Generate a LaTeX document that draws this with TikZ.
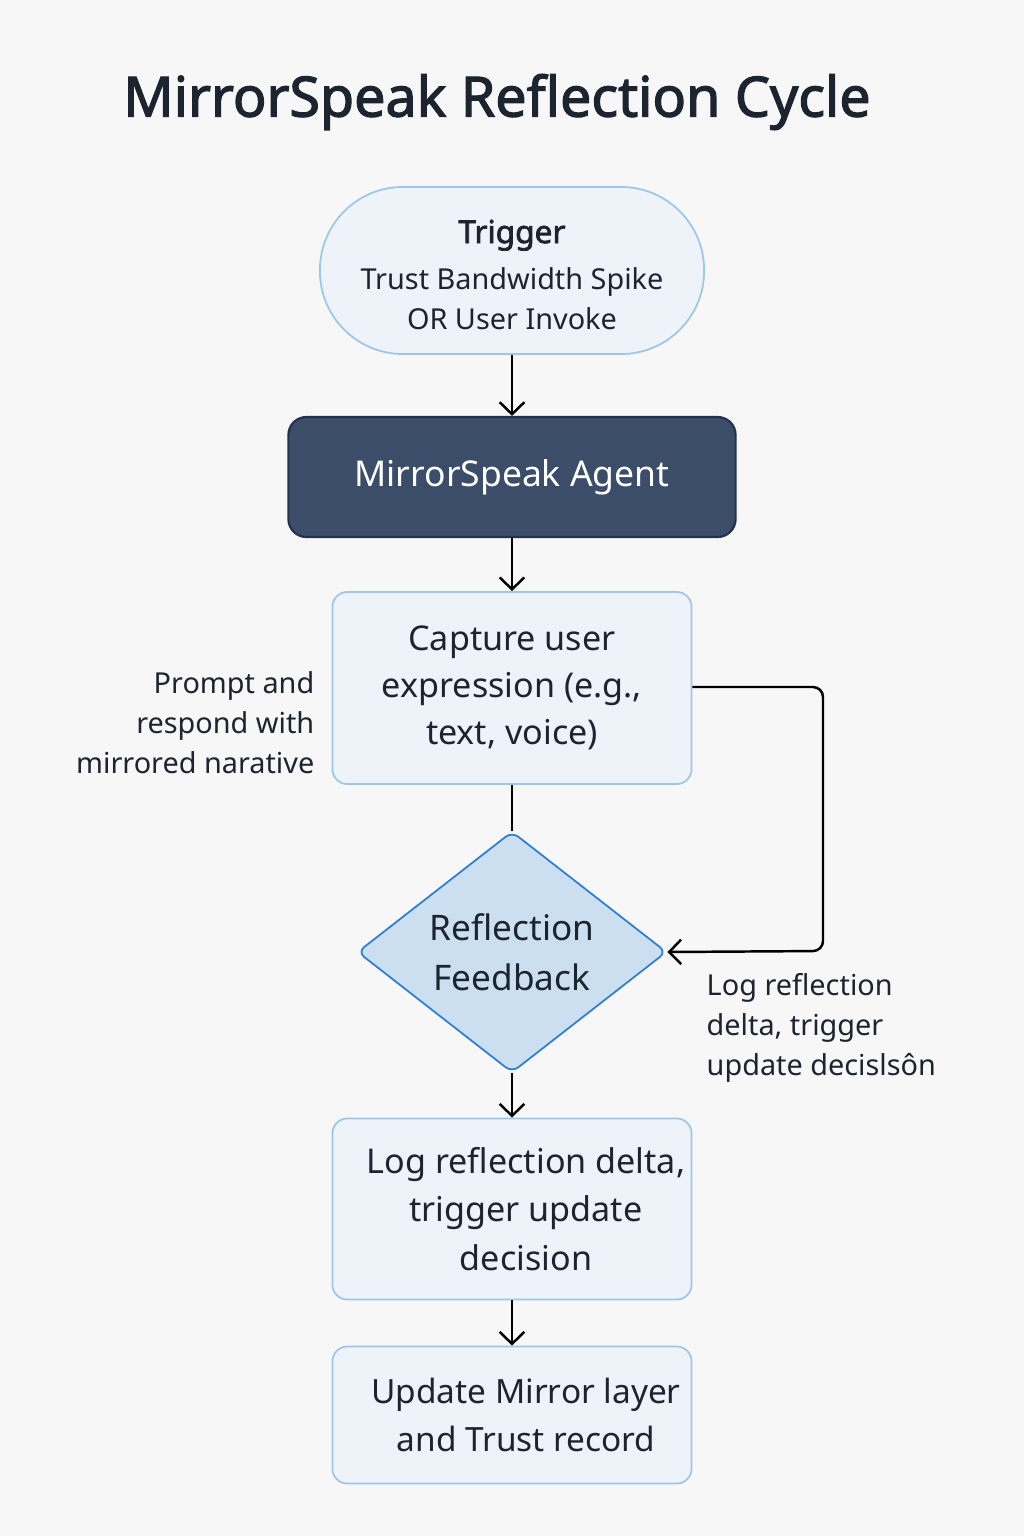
\documentclass[tikz,border=0pt]{standalone}
\usepackage{fontspec}
\setmainfont{Noto Sans}[AutoFakeBold=2.2]
\usetikzlibrary{shapes.geometric,arrows.meta}
\definecolor{pagebg}{HTML}{F7F7F7}
\definecolor{inkdark}{HTML}{1C2430}
\definecolor{boxfill}{HTML}{EEF3F9}
\definecolor{boxline}{HTML}{9EC6EA}
\definecolor{agentfill}{HTML}{3B4D68}
\definecolor{agentline}{HTML}{22324A}
\definecolor{diafill}{HTML}{CCDFF0}
\definecolor{dialine}{HTML}{2F7ED3}
\tikzset{
  stepbox/.style={draw=boxline, fill=boxfill, line width=0.5pt, rounded corners=0.15cm,
    minimum width=3.59cm, inner sep=0pt, align=center, text=inkdark,
    font=\fontsize{9.7}{13.3}\selectfont},
  sidenote/.style={inner sep=0pt, text=inkdark, font=\fontsize{8.2}{11.4}\selectfont},
  flow/.style={draw=black, line width=0.7pt, -{Straight Barb[length=3.4pt,width=7pt]}}
}
\begin{document}
\begin{tikzpicture}[x=0.01cm,y=-0.01cm]
\fill [pagebg] (0,0) rectangle (1024,1536);
\useasboundingbox (0,0) rectangle (1024,1536);
\node (title) [inner sep=0pt, text=inkdark, font=\fontsize{15.8}{18}\selectfont\bfseries] at (497,102) {MirrorSpeak Reflection Cycle};
\node (trigger) [draw=boxline, fill=boxfill, line width=0.5pt, rounded corners=0.83cm, minimum width=3.84cm, minimum height=1.67cm, inner sep=0pt,
  label={[inner sep=0pt, align=center, text=inkdark, font=\fontsize{8.2}{11.4}\selectfont, yshift=-0.045cm]center:{\fontsize{9}{11}\selectfont\bfseries Trigger}\\[1.9pt]Trust Bandwidth Spike\\OR User Invoke}] at (512,270.5) {};
\node (agent) [draw=agentline, fill=agentfill, line width=0.6pt, rounded corners=0.18cm, minimum width=4.47cm, minimum height=1.2cm, inner sep=0pt, text=white, font=\fontsize{10.1}{13}\selectfont] at (512,477) {MirrorSpeak Agent};
\node (capture) [stepbox, minimum height=1.92cm] at (512,688) {Capture user\\expression (e.g.,\\text, voice)};
\node (feedback) [draw=dialine, fill=diafill, line width=0.5pt, shape=diamond, aspect=1.28, minimum width=3.09cm, minimum height=2.41cm, inner sep=0pt, rounded corners=0.08cm, align=center, text=inkdark, font=\fontsize{10}{14.2}\selectfont] at (512,952) {Reflection\\Feedback};
\node (logbox) [stepbox, minimum height=1.81cm, font=\fontsize{9.7}{13.7}\selectfont] at (512,1209) {\hspace*{0.28cm}Log reflection delta,\\\hspace*{0.28cm}trigger update\\\hspace*{0.28cm}decision};
\node (update) [stepbox, minimum height=1.37cm, font=\fontsize{9.5}{13.7}\selectfont] at (512,1415) {\hspace*{0.28cm}Update Mirror layer\\\hspace*{0.28cm}and Trust record};
\node (prompt) [sidenote, align=right, anchor=east] at (315,723) {Prompt and\\respond with\\mirrored narative};
\node (lognote) [sidenote, align=left, anchor=west] at (706,1028) {Log reflection\\delta, trigger\\update decislsôn};
\coordinate (loopa) at (823,687);
\coordinate (loopb) at (823,951);
\draw [flow] (trigger) -- (agent);
\draw [flow] (agent) -- (capture);
\draw [line width=0.7pt] (capture) -- (feedback);
\draw [flow] (feedback) -- (logbox);
\draw [flow] (logbox) -- (update);
\draw [flow, rounded corners=0.1cm] (capture.east |- loopa) -- (loopa) -- (loopb) -- (feedback.east);
\end{tikzpicture}
\end{document}
